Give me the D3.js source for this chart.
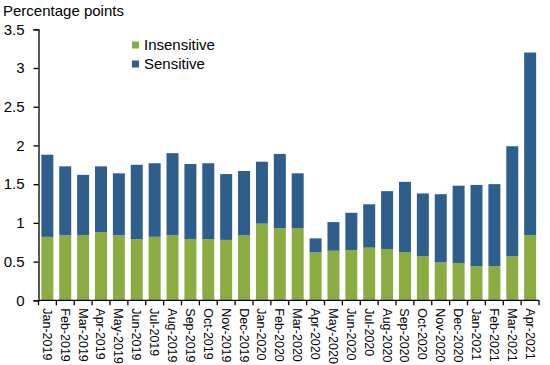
<!DOCTYPE html>
<html>
<head>
<meta charset="utf-8">
<script src="https://cdn.jsdelivr.net/npm/d3@7"></script>
<style>
body{margin:0;background:#fff;}
text{font-family:"Liberation Sans",Arial,sans-serif;fill:#000;}
</style>
</head>
<body>
<svg id="c" width="550" height="365"></svg>
<script>
const months = ["Jan-2019","Feb-2019","Mar-2019","Apr-2019","May-2019","Jun-2019","Jul-2019","Aug-2019","Sep-2019","Oct-2019","Nov-2019","Dec-2019",
"Jan-2020","Feb-2020","Mar-2020","Apr-2020","May-2020","Jun-2020","Jul-2020","Aug-2020","Sep-2020","Oct-2020","Nov-2020","Dec-2020",
"Jan-2021","Feb-2021","Mar-2021","Apr-2021"];
const insensitive = [0.82,0.84,0.84,0.88,0.84,0.79,0.82,0.84,0.79,0.79,0.78,0.84,
0.99,0.93,0.93,0.62,0.64,0.65,0.68,0.66,0.62,0.57,0.49,0.48,0.44,0.44,0.57,0.84];
const totals = [1.88,1.73,1.62,1.73,1.64,1.75,1.77,1.90,1.76,1.77,1.63,1.67,
1.79,1.89,1.64,0.80,1.01,1.13,1.24,1.41,1.53,1.38,1.37,1.48,1.49,1.50,1.99,3.20];
const sensitive = totals.map((t,i)=>+(t-insensitive[i]).toFixed(2));
const yTicks = [0,0.5,1,1.5,2,2.5,3,3.5];
const seriesNames = ["Insensitive","Sensitive"];
const colors = ["#8aac41","#2e5f8c"];

const svg = d3.select("#c");
const m = {left:38.5, right:11, top:29.3, bottom:65};
const W = 550, H = 365;
const x = d3.scaleBand().domain(months).range([m.left, W - m.right]).paddingInner(0.33).paddingOuter(0.16);
const y = d3.scaleLinear().domain([0,3.5]).range([300.3, 29.3]);

const data = months.map((mo,i)=>({month:mo, Insensitive:insensitive[i], Sensitive:sensitive[i]}));
const stack = d3.stack().keys(seriesNames)(data);

svg.append("g").selectAll("g").data(stack).join("g")
  .attr("fill",(d,i)=>colors[i])
  .selectAll("rect").data(d=>d).join("rect")
  .attr("x",d=>x(d.data.month))
  .attr("width",x.bandwidth())
  .attr("y",d=>y(d[1]))
  .attr("height",d=>y(d[0])-y(d[1]));

// y axis
const ya = svg.append("g").attr("transform",`translate(${m.left},0)`)
  .call(d3.axisLeft(y).tickValues(yTicks).tickFormat(d3.format("")).tickSize(5).tickPadding(9));
ya.select(".domain").attr("stroke","#000").attr("stroke-width",1.3);
ya.selectAll(".tick line").attr("stroke","#000").attr("stroke-width",1.3);
ya.selectAll(".tick text").attr("font-size",15).attr("font-family","Liberation Sans, Arial, sans-serif");

// x axis
const step = x.step();
const xa = svg.append("g").attr("transform",`translate(0,${y(0)})`);
xa.append("line").attr("x1",m.left).attr("x2",W-m.right).attr("y1",0).attr("y2",0).attr("stroke","#000").attr("stroke-width",1.3);
const bounds = d3.range(months.length+1).map(i=>m.left + i*(W-m.right-m.left)/months.length);
xa.selectAll("line.tk").data(bounds).join("line").attr("class","tk")
  .attr("x1",d=>d).attr("x2",d=>d).attr("y1",0).attr("y2",5).attr("stroke","#000").attr("stroke-width",1.3);
xa.selectAll("text").data(months).join("text")
  .attr("transform",d=>`translate(${x(d)+x.bandwidth()/2-4.5},8) rotate(90)`)
  .attr("font-size",12.5)
  .attr("text-anchor","start")
  .text(d=>d);

// title
svg.append("text").attr("x",3).attr("y",16).attr("font-size",15).text("Percentage points");

// legend
const lg = svg.append("g");
seriesNames.forEach((n,i)=>{
  lg.append("rect").attr("x",132).attr("y",41.5+i*19).attr("width",7).attr("height",7).attr("fill",colors[i]);
  lg.append("text").attr("x",144).attr("y",50+i*19).attr("font-size",15).text(n);
});
</script>
</body>
</html>
